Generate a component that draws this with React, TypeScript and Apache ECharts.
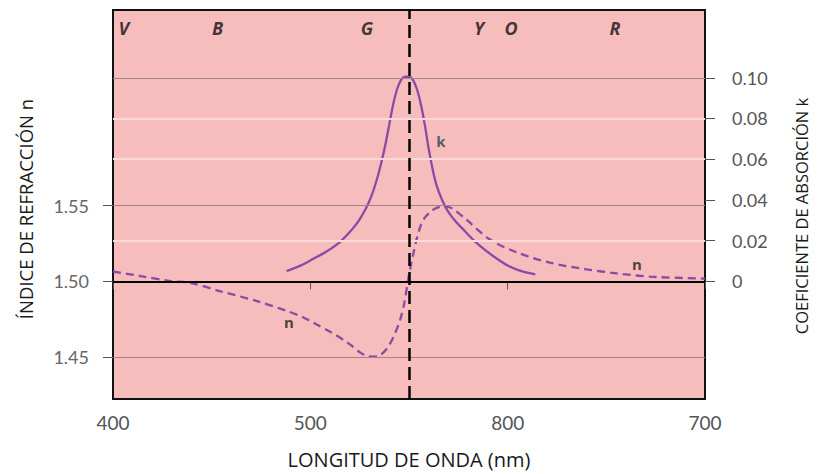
import React, { useEffect, useRef } from "react";
import * as echarts from "echarts";

// ---- data ----
const nCurve: [number, number][] = [
  [400, 1.5065], [414, 1.5035], [429, 1.5002], [439, 1.4991], [454, 1.4936],
  [473, 1.487], [488, 1.4805], [496, 1.4765], [503, 1.4717], [510, 1.4668],
  [517, 1.4612], [521, 1.4575], [525, 1.4533], [528, 1.4511], [531, 1.4503],
  [534, 1.4506], [537, 1.453], [540, 1.458], [543, 1.466], [545.5, 1.4745],
  [547.5, 1.485], [549.6, 1.5013], [551, 1.511], [552.5, 1.52], [554, 1.5285],
  [556, 1.537], [558, 1.542], [561, 1.546], [564, 1.5485], [568, 1.5495],
  [572, 1.548], [579, 1.5408], [591, 1.5276], [605, 1.5189], [621.5, 1.5123],
  [640, 1.5079], [655, 1.5053], [672, 1.5031], [700, 1.5018],
];
const kCurve: [number, number][] = [
  [488, 0.005], [495, 0.0077], [501, 0.0108], [508, 0.0145], [514, 0.0185],
  [519, 0.0232], [522, 0.0265], [525, 0.0305], [528, 0.0355], [531, 0.042],
  [534, 0.051], [536, 0.0585], [538, 0.067], [540, 0.077], [542, 0.087],
  [544, 0.0945], [546, 0.099], [548, 0.1005], [550, 0.1005], [552, 0.099],
  [554, 0.0945], [556, 0.087], [558, 0.077], [560, 0.065], [562, 0.055],
  [564, 0.047], [567, 0.0395], [570, 0.034], [574, 0.029], [578, 0.025],
  [583, 0.02], [588, 0.0158], [594, 0.0115], [600, 0.0078], [607, 0.005],
  [614, 0.0034],
];
const wavelengthTicks = [400, 500, 600, 700];
const wavelengthTickLabels = ["400", "500", "800", "700"];
const nTicks = [1.45, 1.5, 1.55];
const nTickLabels = ["1.45", "1.50", "1.55"];
const kTicks = [0, 0.02, 0.04, 0.06, 0.08, 0.1];
const kTickLabels = ["0", "0.02", "0.04", "0.06", "0.08", "0.10"];
const resonanceWavelength = 550;
const nGrayLines = [1.55, 1.45];
const nZeroLine = 1.5;
const kGrayLines = [0.1];
const kLightLines = [0.08, 0.06, 0.02];
const colorBands = [
  { name: "V", nm: 405.5, n: 1.667 },
  { name: "B", nm: 453, n: 1.667 },
  { name: "G", nm: 528.7, n: 1.667 },
  { name: "Y", nm: 585.5, n: 1.667 },
  { name: "O", nm: 601.7, n: 1.667 },
  { name: "R", nm: 654.4, n: 1.667 },
];
const nCurveLabels = [
  { name: "n", nm: 489.2, n: 1.473 },
  { name: "n", nm: 665.5, n: 1.5112 },
];
const kCurveLabels = [{ name: "k", nm: 566.2, k: 0.0691 }];

const pick = (ticks: number[], labels: string[]) => (v: number) => {
  const i = ticks.findIndex((t) => Math.abs(t - v) < 1e-6);
  return i >= 0 ? labels[i] : "";
};

const FONT = "Lato";
const TITLE_FONT = "Open Sans";
const PURPLE = "#8a4aa6";

export default function App() {
  const ref = useRef<HTMLDivElement>(null);
  useEffect(() => {
    if (!ref.current) return;
    const chart = echarts.init(ref.current, null, { renderer: "svg" });
    const tickStyle = { color: "#555", width: 1 };
    chart.setOption({
      animation: false,
      backgroundColor: "#ffffff",
      grid: {
        left: 113, right: 114, top: 10, bottom: 74,
        show: true, backgroundColor: "#f7bcbc", borderColor: "#111", borderWidth: 2,
        containLabel: false,
      },
      xAxis: {
        type: "value", min: 400, max: 700,
        axisLine: { show: false },
        splitLine: { show: false },
        axisTick: { show: true, customValues: wavelengthTicks, length: 8, lineStyle: tickStyle },
        axisLabel: {
          customValues: wavelengthTicks, formatter: pick(wavelengthTicks, wavelengthTickLabels),
          fontFamily: FONT, fontSize: 19, color: "#555", margin: 14,
        },
        name: "LONGITUD DE ONDA (nm)", nameLocation: "middle", nameGap: 50,
        nameTextStyle: { fontFamily: TITLE_FONT, fontSize: 20, color: "#1a1a1a" },
      },
      yAxis: [
        {
          type: "value", position: "left", min: 1.4224, max: 1.679,
          axisLine: { show: false }, splitLine: { show: false },
          axisTick: { show: true, customValues: nTicks, length: 10, lineStyle: tickStyle },
          axisLabel: {
            customValues: nTicks, formatter: pick(nTicks, nTickLabels),
            fontFamily: FONT, fontSize: 18, color: "#666", margin: 24,
          },
        },
        {
          type: "value", position: "right", min: -0.0578, max: 0.1333,
          axisLine: { show: false }, splitLine: { show: false },
          axisTick: { show: true, customValues: kTicks, length: 10, lineStyle: tickStyle },
          axisLabel: {
            customValues: kTicks, formatter: pick(kTicks, kTickLabels),
            fontFamily: FONT, fontSize: 18, color: "#555", margin: 27,
          },
        },
      ],
      graphic: [
        {
          type: "text", x: 25, y: 209, rotation: Math.PI / 2,
          style: {
            text: "ÍNDICE DE REFRACCIÓN n", fontFamily: TITLE_FONT, fontSize: 18.5, fill: "#1a1a1a",
            textAlign: "center", textVerticalAlign: "middle",
          },
        },
        {
          type: "text", x: 801, y: 216, rotation: Math.PI / 2,
          style: {
            text: "COEFICIENTE DE ABSORCIÓN k", fontFamily: TITLE_FONT, fontSize: 16.5, fill: "#1a1a1a",
            textAlign: "center", textVerticalAlign: "middle",
          },
        },
      ],
      series: [
        {
          type: "line", yAxisIndex: 0, data: [], z: 1, silent: true,
          markLine: {
            silent: true, symbol: "none", label: { show: false }, animation: false,
            data: [
              ...nGrayLines.map((v) => ({ yAxis: v, lineStyle: { color: "#a08686", width: 1, type: "solid" } })),
              { yAxis: nZeroLine, lineStyle: { color: "#000", width: 2, type: "solid" } },
            ],
          },
        },
        {
          type: "line", yAxisIndex: 1, data: [], z: 1, silent: true,
          markLine: {
            silent: true, symbol: "none", label: { show: false }, animation: false,
            data: [
              ...kGrayLines.map((v) => ({ yAxis: v, lineStyle: { color: "#a08686", width: 1, type: "solid" } })),
              ...kLightLines.map((v) => ({ yAxis: v, lineStyle: { color: "#fcd8d8", width: 2, type: "solid" } })),
            ],
          },
        },
        {
          type: "line", yAxisIndex: 0, data: nCurve, showSymbol: false, smooth: 0.3,
          z: 3, lineStyle: { color: PURPLE, width: 2.3, type: [8, 5] },
        },
        {
          type: "line", yAxisIndex: 1, data: kCurve, showSymbol: false, smooth: 0.3,
          z: 3, lineStyle: { color: PURPLE, width: 2.3 },
        },
        {
          type: "line", yAxisIndex: 0, data: [], z: 4, silent: true,
          markLine: {
            silent: true, symbol: "none", label: { show: false }, animation: false,
            data: [{ xAxis: resonanceWavelength, lineStyle: { color: "#000", width: 2.5, type: [13, 6] } }],
          },
        },
        {
          type: "scatter", yAxisIndex: 0, symbolSize: 0, z: 5, silent: true,
          data: colorBands.map((b) => ({ name: b.name, value: [b.nm, b.n] })),
          label: {
            show: true, position: "inside", formatter: "{b}",
            fontFamily: "Open Sans", fontStyle: "italic", fontWeight: "bold", fontSize: 18, color: "#111",
          },
        },
        {
          type: "scatter", yAxisIndex: 0, symbolSize: 0, z: 5, silent: true,
          data: nCurveLabels.map((b) => ({ name: b.name, value: [b.nm, b.n] })),
          label: {
            show: true, position: "inside", formatter: "{b}",
            fontFamily: "Open Sans", fontWeight: "bold", fontSize: 15, color: "#222",
          },
        },
        {
          type: "scatter", yAxisIndex: 1, symbolSize: 0, z: 5, silent: true,
          data: kCurveLabels.map((b) => ({ name: b.name, value: [b.nm, b.k] })),
          label: {
            show: true, position: "inside", formatter: "{b}",
            fontFamily: "Open Sans", fontWeight: "bold", fontSize: 15, color: "#234848",
          },
        },
      ],
    });
    return () => chart.dispose();
  }, []);
  return (
    <div
      ref={ref}
      style={{ position: "fixed", left: 0, top: 0, width: 819, height: 474 }}
    />
  );
}
